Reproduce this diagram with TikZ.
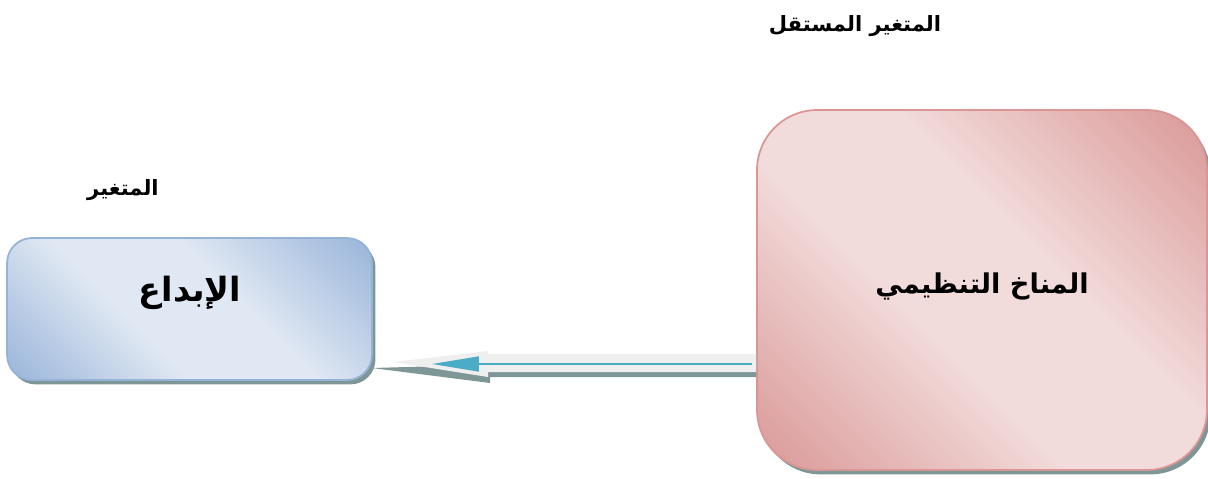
\documentclass[tikz,border=0pt]{standalone}
\usepackage{fontspec}
\usetikzlibrary{shadows,arrows.meta,calc}
\TeXXeTstate=1
\newfontfamily\arabicfont[Script=Arabic]{DejaVu Sans}
\definecolor{bdark}{HTML}{92AFD7}
\definecolor{blight}{HTML}{E0E8F3}
\definecolor{bborder}{HTML}{95B3D7}
\definecolor{pdark}{HTML}{D79190}
\definecolor{plight}{HTML}{F2DCDB}
\definecolor{pborder}{HTML}{D99694}
\definecolor{shadowc}{HTML}{7F9697}
\definecolor{arrowc}{HTML}{EFEFEF}
\definecolor{linec}{HTML}{4BACC6}
\pgfdeclarehorizontalshading{bluediag}{100bp}{color(0bp)=(bdark); color(12bp)=(bdark); color(40bp)=(blight); color(58bp)=(blight); color(88bp)=(bdark); color(100bp)=(bdark)}
\pgfdeclarehorizontalshading{pinkdiag}{100bp}{color(0bp)=(pdark); color(12bp)=(pdark); color(42bp)=(plight); color(58bp)=(plight); color(88bp)=(pdark); color(100bp)=(pdark)}
\tikzset{
  boxshadow/.style={drop shadow={shadow xshift=2pt, shadow yshift=-2.5pt, fill=shadowc, opacity=1}},
  bluebox/.style={rectangle, rounded corners=0.5cm, draw=bborder, line width=1pt, shading=bluediag, shading angle=45, boxshadow, inner sep=0pt},
  pinkbox/.style={rectangle, rounded corners=1.2cm, draw=pborder, line width=1pt, shading=pinkdiag, shading angle=45, boxshadow, inner sep=0pt},
  lbl/.style={font=\arabicfont\bfseries\fontsize{12}{14}\selectfont, inner sep=0pt},
  mainlbl/.style={font=\arabicfont\bfseries\fontsize{19}{22}\selectfont, inner sep=0pt},
}
\begin{document}
\begin{tikzpicture}[x=0.02cm, y=-0.02cm]
\useasboundingbox (0,0) rectangle (1208,478);
\node[bluebox, minimum width=7.3cm, minimum height=2.84cm] (b1) at (189.5,309) {};
\node[pinkbox, minimum width=9cm, minimum height=7.2cm] (b2) at (982,290) {};
\node[mainlbl] (t1) at (190,293) {\beginR الإبداع\endR};
\node[mainlbl, font=\arabicfont\bfseries\fontsize{15.5}{18}\selectfont] (t2) at (982,286) {\beginR المناخ التنظيمي\endR};
\node[lbl] (h1) at (855,26) {\beginR المتغير المستقل\endR};
\node[lbl] (h2) at (123,190) {\beginR المتغير\endR};
% block arrow
\coordinate (tip) at (393,362);
\coordinate (tail) at (b2.west |- tip);
\fill[shadowc] ($(tail)+(0,-5)$) -- ($(tail)+(0,15)$) -- (490,377) -- (490,383) -- ($(tip)+(-21,6)$) -- cycle;
\fill[arrowc] ($(tail)+(0,-8)$) -- ($(tail)+(0,10)$) -- (488,372) -- (488,377) -- (tip) -- (488,351) -- (488,354) -- cycle;
\coordinate (lstart) at ($(tail)+(-4,2)$);
\coordinate (lend) at (432,364);
\draw[linec, line width=0.9pt, -{Triangle[length=0.94cm, width=0.3cm]}] (lstart) -- (lend);
\end{tikzpicture}
\end{document}
